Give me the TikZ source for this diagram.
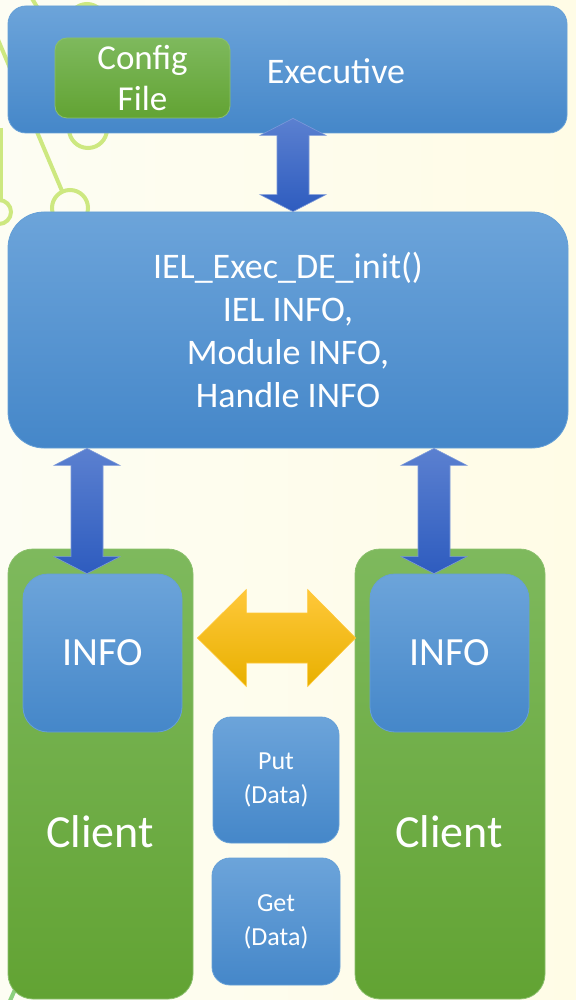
\documentclass[tikz,border=0pt]{standalone}
\usepackage{fontspec}
\setmainfont{Carlito}
\usetikzlibrary{calc}
\definecolor{bluetop}{HTML}{6CA4DA}
\definecolor{bluebot}{HTML}{4587C9}
\definecolor{greentop}{HTML}{7EB95D}
\definecolor{greenbot}{HTML}{62A333}
\definecolor{arrtop}{HTML}{5B80D0}
\definecolor{arrbot}{HTML}{2E5CBF}
\definecolor{goldtop}{HTML}{FFC83A}
\definecolor{goldmid}{HTML}{FFC000}
\definecolor{goldbot}{HTML}{E8B000}
\definecolor{deco}{HTML}{CDE880}
\definecolor{decob}{HTML}{8CD07E}
\definecolor{bgl}{HTML}{FDFDF3}
\definecolor{bgr}{HTML}{FFFCE6}

% vertical double-headed block arrow between two tip points
\newcommand\vdblarrow[2]{%
  \path[blockarrow] (#1) -- ($(#1)+(33,17)$) -- ($(#1)+(16,17)$)
    -- ($(#2)+(16,-17)$) -- ($(#2)+(33,-17)$) -- (#2)
    -- ($(#2)+(-33,-17)$) -- ($(#2)+(-16,-17)$)
    -- ($(#1)+(-16,17)$) -- ($(#1)+(-33,17)$) -- cycle;}

\begin{document}
\begin{tikzpicture}[x=0.5pt,y=-0.5pt,
  bluebox/.style={rectangle, top color=bluetop, bottom color=bluebot,
    draw=bluetop!85!bluebot, line width=0.4pt, text=white, align=center, inner sep=0pt},
  greenbox/.style={rectangle, top color=greentop, bottom color=greenbot,
    draw=greentop!90!white, line width=0.4pt, text=white, align=center, inner sep=0pt},
  lbl/.style={text=white, inner sep=0pt, align=center},
  blockarrow/.style={top color=arrtop, bottom color=arrbot, draw=arrtop!80!white, line width=0.3pt},
  goldarrow/.style={top color=goldtop, middle color=goldmid, bottom color=goldbot, draw=goldtop, line width=0.3pt},
  decoline/.style={draw=deco, line width=2pt}
]
\useasboundingbox (0,0) rectangle (576,1000);
\path[left color=bgl, right color=bgr] (0,0) rectangle (576,1000);

% decorative network in the background
\begin{scope}
  \clip (0,0) rectangle (576,1000);
  \draw[decoline] (-23,-10) -- (62,191);
  \draw[decoline] (70,208) circle[radius=18];
  \draw[decoline] (88,129) circle[radius=19];
  \draw[decoline] (87,22) circle[radius=18];
  \draw[decoline] (1,128) -- (1,200);
  \draw[decoline] (-1,212) circle[radius=12];
  \draw[decoline] (28,-8) -- (45,20);
  \draw[draw=decob, line width=2pt] (17,985) -- (9,1003);
\end{scope}

% Executive
\node[bluebox, rounded corners=9pt, minimum width=279.5pt, minimum height=63.5pt] (exec) at (287.5,69.5) {};
\node[greenbox, rounded corners=6pt, minimum width=87.5pt, minimum height=40pt,
  font=\fontsize{17.5}{20.5}\selectfont] (config) at (142.5,78) {Config\\File};
\node[lbl, font=\fontsize{18}{21.5}\selectfont] (exectxt) at (336,71) {Executive};

% Data-exchange init box
\node[bluebox, rounded corners=18pt, minimum width=280pt, minimum height=118pt,
  font=\fontsize{18}{21.5}\selectfont] (mid) at (288,330)
  {IEL\_Exec\_DE\_init()\\IEL INFO,\\Module INFO,\\Handle INFO};

% Clients
\node[greenbox, rounded corners=12.5pt, minimum width=92.5pt, minimum height=225pt] (clientL) at (100.5,774) {};
\node[greenbox, rounded corners=12.5pt, minimum width=95pt, minimum height=225pt] (clientR) at (450,774) {};
\node[bluebox, rounded corners=12.5pt, minimum width=79.5pt, minimum height=79pt,
  font=\fontsize{20}{24}\selectfont] (infoL) at (102.5,653) {INFO};
\node[bluebox, rounded corners=12.5pt, minimum width=79.5pt, minimum height=79pt,
  font=\fontsize{20}{24}\selectfont] (infoR) at (449.5,653) {INFO};
\node[lbl, font=\fontsize{23}{27}\selectfont] (clientLtxt) at (100,832) {Client};
\node[lbl, font=\fontsize{23}{27}\selectfont] (clientRtxt) at (449,832) {Client};

% Put / Get
\node[bluebox, rounded corners=9pt, minimum width=63pt, minimum height=63pt,
  font=\fontsize{13}{17}\selectfont] (put) at (276,780) {Put\\(Data)};
\node[bluebox, rounded corners=9pt, minimum width=64pt, minimum height=63.5pt,
  font=\fontsize{13}{17}\selectfont] (get) at (276,921.5) {Get\\(Data)};

% vertical connectors
\coordinate (x1) at (293,0);
\coordinate (x2) at (87,0);
\coordinate (x3) at (434,0);
\coordinate (t1) at ($(exec.south -| x1)+(0,-15)$);
\coordinate (b1) at (mid.north -| x1);
\coordinate (t2) at (mid.south -| x2);
\coordinate (b2) at (infoL.north -| x2);
\coordinate (t3) at (mid.south -| x3);
\coordinate (b3) at (infoR.north -| x3);
\vdblarrow{t1}{b1}
\vdblarrow{t2}{b2}
\vdblarrow{t3}{b3}

% client-to-client exchange
\coordinate (hl) at ($(clientL.east |- infoL.center)+(4,-15)$);
\coordinate (hr) at ($(clientR.west |- infoR.center)+(1,-15)$);
\path[goldarrow] (hl) -- ($(hl)+(49,-48.5)$) -- ($(hl)+(49,-25)$)
  -- ($(hr)+(-48,-25)$) -- ($(hr)+(-48,-48.5)$) -- (hr)
  -- ($(hr)+(-48,48.5)$) -- ($(hr)+(-48,25)$)
  -- ($(hl)+(49,25)$) -- ($(hl)+(49,48.5)$) -- cycle;
\end{tikzpicture}
\end{document}
